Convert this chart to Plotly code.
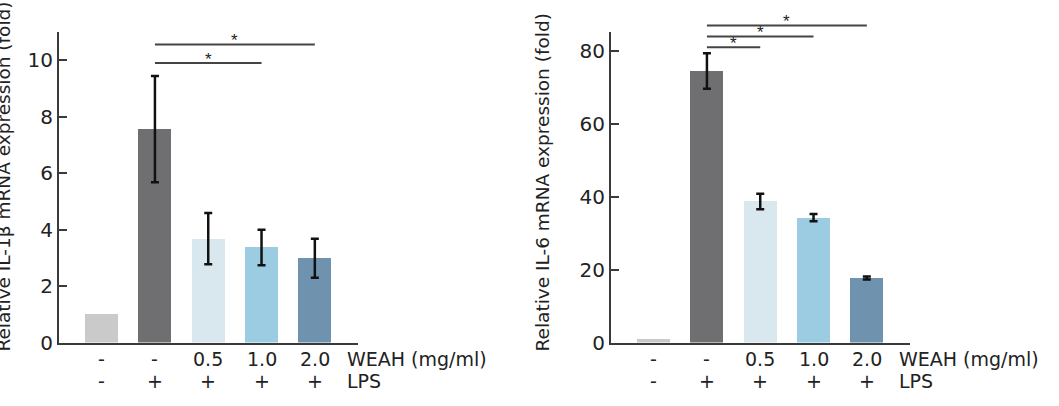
import plotly.graph_objects as go

W, H = 1059, 406

# ---- data ----
weah_labels = ["-", "-", "0.5", "1.0", "2.0"]
lps_labels = ["-", "+", "+", "+", "+"]
bar_colors = ["#cacaca", "#6f6e70", "#d8e8ee", "#9bcce2", "#6f92ae"]

il1b_vals = [1.0, 7.56, 3.68, 3.37, 2.99]
il1b_err = [None, 1.88, 0.91, 0.63, 0.69]
il1b_sig = [(1, 3, 9.9), (1, 4, 10.56)]  # (from, to, level)

il6_vals = [1.0, 74.5, 38.7, 34.3, 17.7]
il6_err = [None, 4.85, 2.1, 1.0, 0.4]
il6_sig = [(1, 2, 81.0), (1, 3, 84.0), (1, 4, 87.0)]

left_title = "Relative IL-1β mRNA expression (fold)"
right_title = "Relative IL-6 mRNA expression (fold)"
row1_name = "WEAH (mg/ml)"
row2_name = "LPS"

# ---- layout in pixels ----
FONT = "DejaVu Sans, Liberation Sans, Arial, sans-serif"
STAR_FONT = "Liberation Sans, Arial, sans-serif"
TXT = "#222222"
AX = "#3a3a3a"
y_bot, y_top = 353, 33
row1_y, row2_y = 370, 393
panels = [
    dict(xa="x", ya="y", x0=59, x1=358, ymax=11.0, dtick=2, vals=il1b_vals, err=il1b_err,
         sig=il1b_sig, title=left_title, title_x=4, title_y=182),
    dict(xa="x2", ya="y2", x0=611, x1=910, ymax=85.2, dtick=20, vals=il6_vals, err=il6_err,
         sig=il6_sig, title=right_title, title_x=542, title_y=188),
]
xrange = [-0.8, 4.81]

fig = go.Figure()
cats = list(range(len(weah_labels)))


def px(x):
    return x / W


def py(y):
    return (H - y) / H


shapes = []
annotations = []
for i, p in enumerate(panels):
    fig.add_trace(go.Bar(
        x=cats, y=p["vals"], width=0.62,
        marker=dict(color=bar_colors, line=dict(width=0)),
        xaxis=p["xa"], yaxis=p["ya"], showlegend=False,
    ))
    # error bars only where an error is given
    ex = [c for c in cats if p["err"][c] is not None]
    fig.add_trace(go.Scatter(
        x=ex, y=[p["vals"][c] for c in ex], mode="markers",
        marker=dict(size=1, opacity=0),
        error_y=dict(type="data", array=[p["err"][c] for c in ex], visible=True,
                     color="#111111", thickness=2.5, width=4),
        xaxis=p["xa"], yaxis=p["ya"], showlegend=False, hoverinfo="skip",
    ))
    sfx = "" if i == 0 else "2"
    fig.layout["xaxis" + sfx] = dict(
        domain=[px(p["x0"]), px(p["x1"])], range=xrange, showgrid=False, zeroline=False,
        showline=True, linecolor=AX, linewidth=2, ticks="", showticklabels=False,
        anchor=p["ya"], fixedrange=True,
    )
    fig.layout["yaxis" + sfx] = dict(
        domain=[py(y_bot), py(y_top)], range=[0, p["ymax"]], dtick=p["dtick"], tick0=0,
        showgrid=False, zeroline=False, showline=True, linecolor=AX, linewidth=2,
        ticks="inside", ticklen=8, tickwidth=2, tickcolor=AX,
        tickfont=dict(family=FONT, size=20, color=TXT), anchor=p["xa"], fixedrange=True,
    )
    # significance brackets
    for (a, b, lvl) in p["sig"]:
        yd = lvl / p["ymax"]
        shapes.append(dict(type="line", xref=p["xa"], yref=p["ya"] + " domain",
                           x0=a, x1=b, y0=yd, y1=yd, line=dict(color="#444444", width=2)))
        annotations.append(dict(xref=p["xa"], yref=p["ya"] + " domain", x=(a + b) / 2, y=yd,
                                text="*", showarrow=False, yanchor="bottom", yshift=-8,
                                font=dict(family=STAR_FONT, size=17, color="#222222")))
    # category rows under the axis
    for c in cats:
        annotations.append(dict(xref=p["xa"], yref="paper", x=c, y=py(row1_y), text=weah_labels[c],
                                showarrow=False, xanchor="center", yanchor="middle", borderpad=0,
                                font=dict(family=FONT, size=19, color=TXT)))
        annotations.append(dict(xref=p["xa"], yref="paper", x=c, y=py(row2_y), text=lps_labels[c],
                                showarrow=False, xanchor="center", yanchor="middle", borderpad=0,
                                font=dict(family=FONT, size=19, color=TXT)))
    annotations.append(dict(xref=p["xa"], yref="paper", x=4.58, y=py(row1_y), text=row1_name,
                            showarrow=False, xanchor="left", yanchor="middle", borderpad=0,
                            font=dict(family=FONT, size=19, color=TXT)))
    annotations.append(dict(xref=p["xa"], yref="paper", x=4.58, y=py(row2_y), text=row2_name,
                            showarrow=False, xanchor="left", yanchor="middle", borderpad=0,
                            font=dict(family=FONT, size=19, color=TXT)))
    annotations.append(dict(xref="paper", yref="paper", x=px(p["title_x"]), y=py(p["title_y"]),
                            text=p["title"], textangle=-90, showarrow=False,
                            xanchor="center", yanchor="middle",
                            font=dict(family=FONT, size=18.5, color=TXT)))

fig.update_layout(
    width=W, height=H, margin=dict(l=0, r=0, t=0, b=0),
    paper_bgcolor="white", plot_bgcolor="white", barmode="overlay",
    shapes=shapes, annotations=annotations, bargap=0,
)
fig.write_html("out.html", config={"displayModeBar": False})
